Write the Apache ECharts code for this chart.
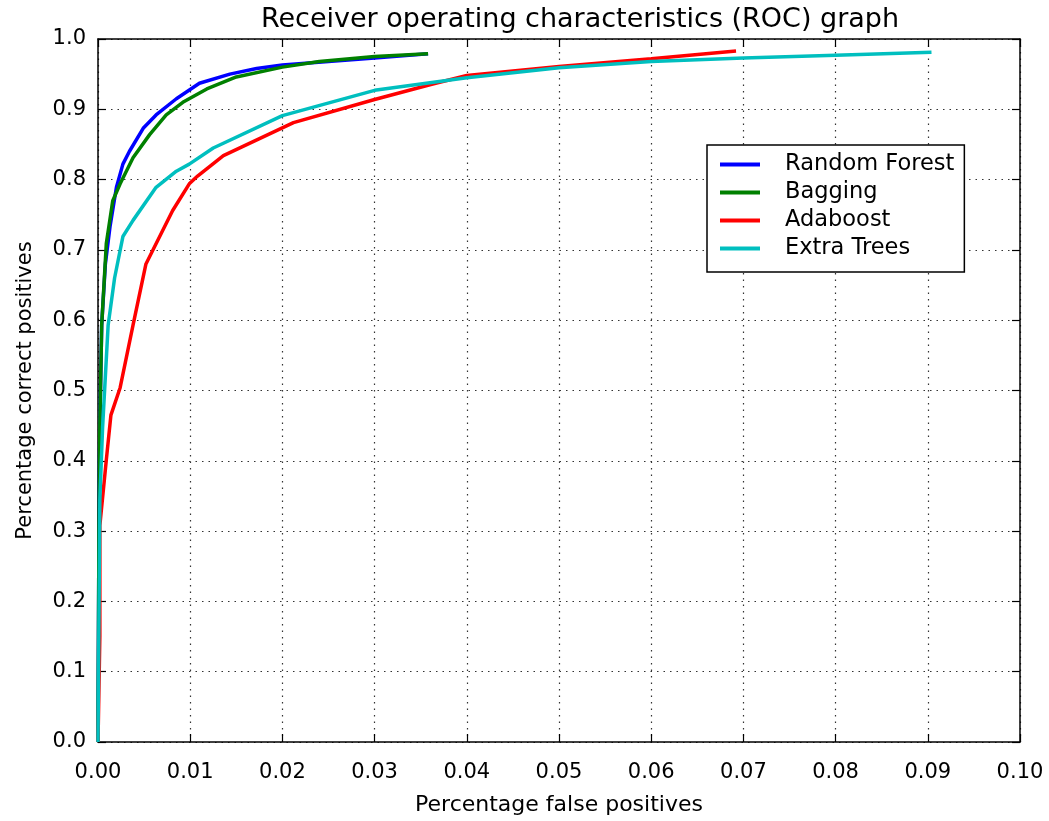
<!DOCTYPE html>
<html>
<head>
<meta charset="utf-8">
<script src="https://cdn.jsdelivr.net/npm/echarts@6/dist/echarts.min.js"></script>
<style>
  html, body { margin: 0; padding: 0; background: #fff; }
  #chart { width: 1049px; height: 821px; }
</style>
</head>
<body>
<div id="chart"></div>
<script>
// ROC curves: [false positive rate, true positive rate]
const randomForest = [
  [0, 0], [0.0001, 0.3], [0.0002, 0.45], [0.0004, 0.593], [0.0008, 0.68], [0.0013, 0.733],
  [0.0020, 0.789], [0.0027, 0.822], [0.0034, 0.840], [0.0049, 0.873], [0.0063, 0.892],
  [0.0085, 0.915], [0.0110, 0.937], [0.0143, 0.950], [0.0172, 0.958], [0.0200, 0.963],
  [0.0250, 0.968], [0.0300, 0.973], [0.0358, 0.979]
]
const bagging = [
  [0, 0], [0.0001, 0.3], [0.0002, 0.45], [0.0004, 0.593], [0.0009, 0.709], [0.0016, 0.770],
  [0.0024, 0.794], [0.0038, 0.831], [0.0056, 0.864], [0.0074, 0.892], [0.0092, 0.910],
  [0.0118, 0.929], [0.0150, 0.946], [0.0200, 0.960], [0.0240, 0.968], [0.0300, 0.975],
  [0.0358, 0.979]
]
const adaboost = [
  [0, 0], [0.0002, 0.15], [0.0002, 0.308], [0.0009, 0.401], [0.0014, 0.465], [0.0024, 0.504],
  [0.0038, 0.593], [0.0052, 0.680], [0.0081, 0.756], [0.0099, 0.794], [0.0108, 0.805],
  [0.0136, 0.834], [0.0212, 0.881], [0.0300, 0.914], [0.0363, 0.936], [0.0400, 0.948],
  [0.0500, 0.961], [0.0600, 0.972], [0.0692, 0.983]
]
const extraTrees = [
  [0, 0], [0.0002, 0.345], [0.0005, 0.448], [0.0011, 0.593], [0.0018, 0.660], [0.0027, 0.719],
  [0.0038, 0.742], [0.0063, 0.789], [0.0085, 0.812], [0.0099, 0.822], [0.0125, 0.845],
  [0.0200, 0.891], [0.0300, 0.927], [0.0400, 0.945], [0.0500, 0.959], [0.0600, 0.968],
  [0.0700, 0.973], [0.0800, 0.977], [0.0904, 0.981]
]
const seriesNames = ['Random Forest', 'Bagging', 'Adaboost', 'Extra Trees']
const seriesColors = ['#0000ff', '#008000', '#ff0000', '#00bfbf']
const seriesData = [randomForest, bagging, adaboost, extraTrees]

const font = 'DejaVu Sans'
const frame = { show: true, onZero: false, lineStyle: { color: '#000', width: 1.5 } }
const tick = { show: true, inside: true, length: 8, lineStyle: { color: '#000', width: 1.2 } }
const dotted = { show: true, lineStyle: { color: '#333', width: 1.2, type: [1.5, 5] } }

const chart = echarts.init(document.getElementById('chart'))
chart.setOption({
  animation: false,
  backgroundColor: '#fff',
  title: {
    text: 'Receiver operating characteristics (ROC) graph',
    left: 575, top: 1, textAlign: 'center',
    textStyle: { fontFamily: font, fontSize: 27, fontWeight: 'normal', color: '#000' }
  },
  grid: { left: 98, top: 39, right: 29, bottom: 68 },
  legend: {
    orient: 'vertical',
    left: 707, top: 145,
    padding: [8, 10, 12, 13],
    itemGap: 5,
    itemWidth: 40, itemHeight: 4,
    icon: 'rect',
    backgroundColor: '#fff',
    borderColor: '#000', borderWidth: 1.5,
    data: seriesNames,
    textStyle: { fontFamily: font, fontSize: 22.5, lineHeight: 22, color: '#000', padding: [0, 0, 0, 20] }
  },
  xAxis: [
    {
      type: 'value', min: 0, max: 0.1, interval: 0.01,
      name: 'Percentage false positives', nameLocation: 'middle', nameGap: 52,
      nameTextStyle: { fontFamily: font, fontSize: 22, color: '#000' },
      axisLine: frame, axisTick: tick, splitLine: dotted,
      axisLabel: { fontFamily: font, fontSize: 21, color: '#000', margin: 20,
        formatter: v => v.toFixed(2) }
    },
    {
      type: 'value', position: 'top', min: 0, max: 0.1, interval: 0.01,
      axisLine: frame, axisTick: tick, splitLine: { show: false },
      axisLabel: { show: false }
    }
  ],
  yAxis: [
    {
      type: 'value', min: 0, max: 1, interval: 0.1,
      name: 'Percentage correct positives', nameLocation: 'middle', nameGap: 62,
      nameTextStyle: { fontFamily: font, fontSize: 21, color: '#000' },
      axisLine: frame, axisTick: tick, splitLine: dotted,
      axisLabel: { fontFamily: font, fontSize: 21, color: '#000', margin: 12,
        formatter: v => v.toFixed(1) }
    },
    {
      type: 'value', position: 'right', min: 0, max: 1, interval: 0.1,
      axisLine: frame, axisTick: tick, splitLine: { show: false },
      axisLabel: { show: false }
    }
  ],
  series: seriesNames.map((name, i) => ({
    name: name,
    type: 'line',
    xAxisIndex: 0, yAxisIndex: 0,
    data: seriesData[i],
    showSymbol: false,
    smooth: false,
    z: 3,
    color: seriesColors[i],
    lineStyle: { color: seriesColors[i], width: 3.5 }
  }))
})
</script>
</body>
</html>
